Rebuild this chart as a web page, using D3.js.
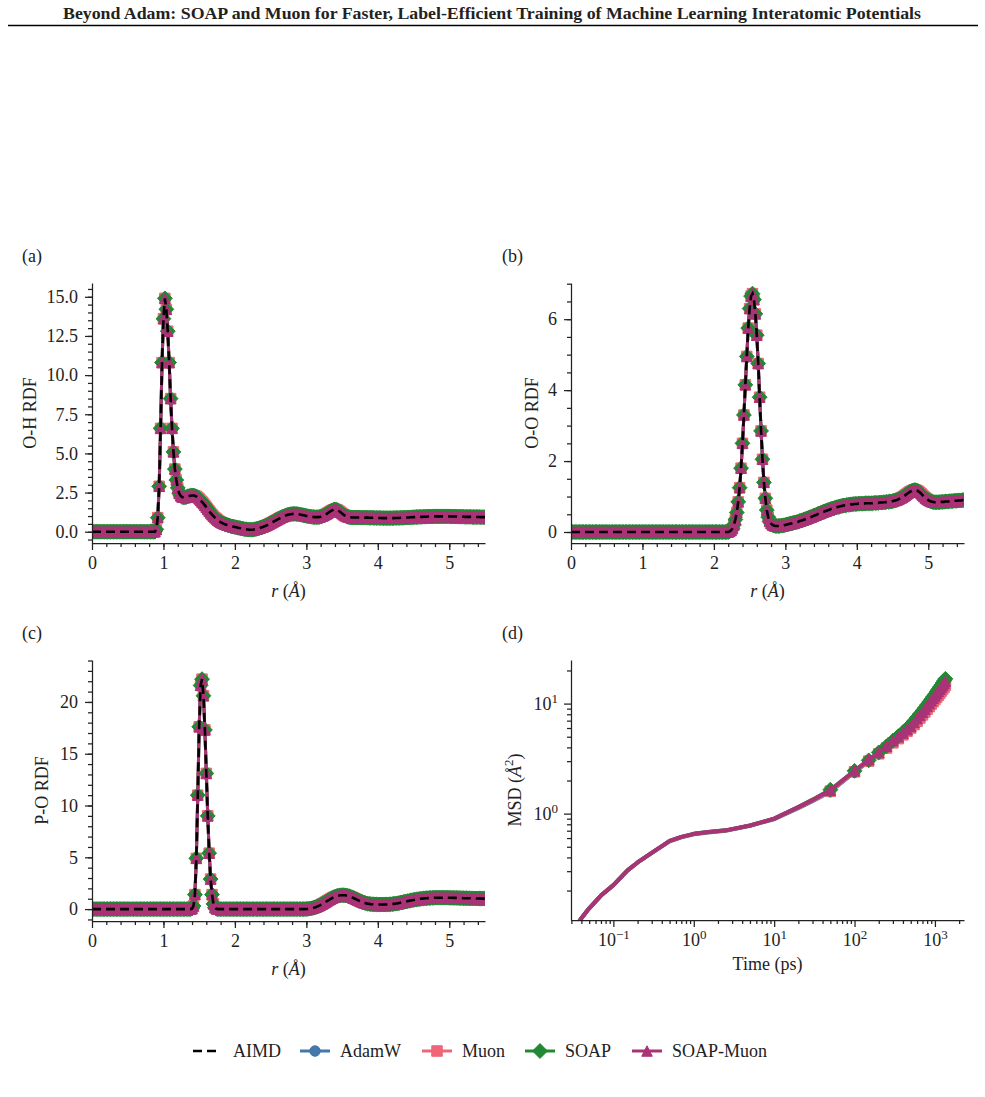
<!DOCTYPE html>
<html>
<head>
<meta charset="utf-8">
<script src="https://cdn.jsdelivr.net/npm/d3@7"></script>
<style>
  body { margin: 0; background: #fff; }
  svg text { font-family: "Liberation Serif", "Times New Roman", serif; fill: #222; }
  .axis path, .axis line, .minor line { stroke: #222; stroke-width: 1.25; }
  .axis text { font-size: 18px; }
</style>
</head>
<body>
<div id="fig"></div>
<script>
// RDF histograms, bin width 0.02 Å from r = 0 to 5.5 Å
const rdfBin = 0.02;

const rdfOH = [
  0,0,0,0,0,0,0,0,0,0, 0,0,0,0,0,0,0,0,0,0, 0,0,0,0,0,0,0,0,0,0, 0,0,0,0,0,0,0,0,0,0, 0,0,0,0,0,
  0.15, 0.9, 2.9, 6.6, 10.8, 13.6, 14.9, 14.2, 12.8, 10.8, 8.5, 6.6, 5.1, 4.0, 3.3, 2.8, 2.45, 2.3, 2.22, 2.2, 2.2,
  2.22, 2.25, 2.28, 2.3, 2.31, 2.31, 2.29, 2.25, 2.19, 2.1, 2.0, 1.9, 1.8, 1.68, 1.56, 1.44, 1.32, 1.2, 1.09, 0.99,
  0.9, 0.82, 0.74, 0.67, 0.61, 0.56, 0.52, 0.48, 0.45, 0.42, 0.39, 0.36, 0.34, 0.32, 0.3,
  0.28, 0.26, 0.24, 0.22, 0.2, 0.18, 0.16, 0.15, 0.14, 0.13, 0.13, 0.13, 0.14, 0.16, 0.18, 0.2, 0.23, 0.26, 0.29, 0.32,
  0.36, 0.4, 0.44, 0.49, 0.54, 0.59, 0.64, 0.69, 0.74, 0.79, 0.84, 0.89, 0.93, 0.97, 1.01, 1.05, 1.08, 1.1, 1.12, 1.13,
  1.14, 1.14, 1.13, 1.12, 1.11, 1.09, 1.07, 1.05, 1.03, 1.01,
  0.99, 0.98, 0.96, 0.95, 0.94, 0.93, 0.93, 0.93, 0.94, 0.96, 0.99, 1.03, 1.08, 1.13, 1.19, 1.25, 1.31, 1.36, 1.4, 1.42,
  1.41, 1.37, 1.31, 1.24, 1.16, 1.09, 1.03, 0.98, 0.95, 0.93, 0.92, 0.91,
  0.91, 0.91, 0.91, 0.91, 0.91, 0.9, 0.9, 0.9, 0.9, 0.9, 0.9, 0.89, 0.89,
  0.89, 0.89, 0.88, 0.88, 0.88, 0.88, 0.88, 0.87, 0.87, 0.87, 0.87, 0.87, 0.87, 0.87, 0.87, 0.87, 0.88, 0.88, 0.88, 0.88,
  0.89, 0.89, 0.89, 0.9, 0.9, 0.91, 0.91, 0.92, 0.92, 0.93, 0.93, 0.94, 0.94, 0.95, 0.95, 0.95, 0.96, 0.96, 0.96, 0.97,
  0.97, 0.97, 0.97, 0.98, 0.98, 0.98, 0.98, 0.98, 0.98, 0.98, 0.98, 0.98, 0.98, 0.98, 0.98, 0.97, 0.97, 0.97, 0.97, 0.97,
  0.96, 0.96, 0.96, 0.96, 0.96, 0.95, 0.95, 0.95, 0.95, 0.95, 0.94, 0.94, 0.94, 0.94, 0.94, 0.94, 0.93, 0.93, 0.93, 0.93
];

const rdfOO = [
  0,0,0,0,0,0,0,0,0,0, 0,0,0,0,0,0,0,0,0,0, 0,0,0,0,0,0,0,0,0,0, 0,0,0,0,0,0,0,0,0,0,
  0,0,0,0,0,0,0,0,0,0, 0,0,0,0,0,0,0,0,0,0, 0,0,0,0,0,0,0,0,0,0, 0,0,0,0,0,0,0,0,0,0,
  0,0,0,0,0,0,0,0,0,0, 0,0,0,0,0,0,0,0,0,0, 0,0,0,0,0,0,0,0,0,0, 0,
  0.02, 0.05, 0.1, 0.2, 0.35, 0.55, 0.85, 1.25, 1.8, 2.5, 3.3, 4.15, 4.95, 5.75, 6.3, 6.65, 6.72, 6.55, 6.15, 5.55,
  4.75, 3.8, 2.85, 2.05, 1.4, 0.95, 0.62, 0.42, 0.3, 0.24, 0.2, 0.18, 0.17, 0.17, 0.17,
  0.17, 0.18, 0.18, 0.19, 0.2, 0.21, 0.22, 0.23, 0.24, 0.25, 0.26, 0.27, 0.28, 0.29, 0.31, 0.32, 0.33, 0.35, 0.36, 0.38,
  0.39, 0.41, 0.42, 0.44, 0.46, 0.47, 0.49, 0.51, 0.52, 0.54, 0.56, 0.57, 0.59, 0.6, 0.62, 0.63, 0.65, 0.66, 0.67, 0.69,
  0.7, 0.71, 0.72, 0.73, 0.74, 0.75, 0.75, 0.76, 0.77, 0.77, 0.78, 0.78, 0.79, 0.79, 0.79, 0.8, 0.8, 0.8, 0.8, 0.8,
  0.81, 0.81, 0.81, 0.81, 0.81, 0.81, 0.82, 0.82, 0.82, 0.82, 0.83, 0.83, 0.83, 0.84, 0.84, 0.85, 0.85, 0.86, 0.86, 0.87,
  0.88, 0.89, 0.9, 0.92, 0.94, 0.96, 0.98, 1.01, 1.04, 1.07, 1.1, 1.13, 1.15, 1.17, 1.18, 1.18, 1.17, 1.15, 1.12, 1.08,
  1.04, 1.0, 0.96, 0.93, 0.9, 0.88, 0.86, 0.85, 0.84, 0.84, 0.84, 0.84, 0.84, 0.85, 0.85, 0.85, 0.86, 0.86, 0.86, 0.87,
  0.87, 0.87, 0.88, 0.88, 0.88, 0.89, 0.89, 0.89, 0.9, 0.9
];

const rdfPO = [
  0,0,0,0,0,0,0,0,0,0, 0,0,0,0,0,0,0,0,0,0, 0,0,0,0,0,0,0,0,0,0, 0,0,0,0,0,0,0,0,0,0,
  0,0,0,0,0,0,0,0,0,0, 0,0,0,0,0,0,0,0,0,0, 0,0,0,0,0,0,0,0,0,0,
  0.05, 0.3, 1.4, 4.9, 11.0, 17.6, 21.6, 22.2, 20.6, 17.3, 13.1, 9.0, 5.4, 2.9, 1.4, 0.5, 0.15, 0.03, 0,
  0,0,0,0,0,0,0,0,0,0, 0,0,0,0,0,0,0,0,0,0, 0,0,0,0,0,0,0,0,0,0, 0,0,0,0,0,0,0,0,0,0,
  0,0,0,0,0,0,0,0,0,0, 0,0,0,0,0,0,0,0,0,0, 0,
  0.01, 0.02, 0.04,
  0.06, 0.09, 0.12, 0.16, 0.21, 0.27, 0.33, 0.4, 0.48, 0.56, 0.64, 0.73, 0.82, 0.9, 0.98, 1.06, 1.13, 1.19, 1.24, 1.28,
  1.31, 1.33, 1.34, 1.34, 1.33, 1.31, 1.28, 1.24, 1.19, 1.13, 1.07, 1.0, 0.93, 0.86, 0.8, 0.74, 0.68, 0.63, 0.59, 0.55,
  0.52, 0.5, 0.48, 0.47, 0.46, 0.45, 0.45, 0.44, 0.44, 0.44, 0.44, 0.44, 0.44, 0.45, 0.45, 0.46, 0.47, 0.48, 0.5, 0.52,
  0.54, 0.56, 0.59, 0.62, 0.65, 0.68, 0.71, 0.74, 0.77, 0.8, 0.83, 0.86, 0.88, 0.91, 0.93, 0.95, 0.97, 0.99, 1.01, 1.02,
  1.04, 1.05, 1.06, 1.07, 1.08, 1.09, 1.09, 1.1, 1.1, 1.1, 1.1, 1.1, 1.1, 1.1, 1.1, 1.1, 1.1, 1.09, 1.09, 1.09,
  1.08, 1.08, 1.08, 1.07, 1.07, 1.06, 1.06, 1.05, 1.05, 1.05, 1.04, 1.04, 1.04, 1.03, 1.03, 1.03, 1.02, 1.02, 1.02, 1.02,
  1.01, 1.01, 1.01
];

// MSD vs time (ps); markers only appear from 50 ps on
const msdTime = [0.03, 0.04, 0.05, 0.07, 0.1, 0.15, 0.2, 0.3, 0.5, 0.7, 1, 1.5, 2.5, 5, 10, 20, 30,
  50, 100, 150, 200, 250, 300, 350, 400, 450, 500, 550, 600, 650, 700, 750, 800, 850, 900, 950,
  1000, 1050, 1100, 1150, 1200, 1250, 1300, 1350];
const msdAdamW = [0.083, 0.112, 0.138, 0.18, 0.224, 0.305, 0.36, 0.44, 0.56, 0.61, 0.65, 0.675, 0.7, 0.775, 0.89, 1.12, 1.3,
  1.58, 2.38, 3.0, 3.5, 4.0, 4.45, 4.85, 5.25, 5.65, 6.05, 6.55, 7.05, 7.55, 8.05, 8.6, 9.15, 9.7, 10.25, 10.8,
  11.3, 11.85, 12.4, 12.95, 13.5, 14.05, 14.6, 15.2];
const msdMuon = [0.083, 0.112, 0.138, 0.18, 0.224, 0.305, 0.36, 0.44, 0.56, 0.612, 0.652, 0.678, 0.703, 0.778, 0.895, 1.14, 1.32,
  1.6, 2.4, 3.0, 3.5, 3.95, 4.4, 4.8, 5.2, 5.6, 6.0, 6.45, 6.9, 7.4, 7.9, 8.4, 8.9, 9.4, 9.9, 10.4,
  10.9, 11.4, 11.9, 12.45, 13.0, 13.55, 14.1, 14.7];
const msdSOAP = [0.083, 0.112, 0.138, 0.18, 0.224, 0.305, 0.36, 0.44, 0.565, 0.615, 0.655, 0.68, 0.705, 0.78, 0.9, 1.15, 1.34,
  1.65, 2.45, 3.05, 3.6, 4.1, 4.6, 5.05, 5.5, 5.95, 6.4, 6.95, 7.5, 8.05, 8.6, 9.15, 9.75, 10.35, 10.95, 11.55,
  12.15, 12.8, 13.45, 14.1, 14.75, 15.4, 16.1, 16.8];
const msdSOAPMuon = [0.083, 0.112, 0.138, 0.18, 0.224, 0.305, 0.36, 0.44, 0.565, 0.615, 0.655, 0.68, 0.705, 0.78, 0.9, 1.15, 1.33,
  1.63, 2.45, 3.1, 3.6, 4.1, 4.6, 5.0, 5.4, 5.8, 6.2, 6.75, 7.3, 7.8, 8.35, 8.9, 9.45, 10.0, 10.6, 11.2,
  11.7, 12.3, 12.9, 13.5, 14.1, 14.7, 15.3, 16.0];

const models = ["AdamW", "Muon", "SOAP", "SOAP-Muon"];
const modelColors = ["#4477AA", "#EE6677", "#228833", "#AA3377"];
const modelMarkers = ["circle", "square", "diamond", "triangle"];
const msdByModel = [msdAdamW, msdMuon, msdSOAP, msdSOAPMuon];

const W = 985, H = 1097;
const markerSize = 10.5;
const fs = 18;

const svg = d3.select("#fig").append("svg")
  .attr("width", W).attr("height", H)
  .attr("viewBox", `0 0 ${W} ${H}`);
svg.append("rect").attr("width", W).attr("height", H).attr("fill", "#fff");

// header
svg.append("text")
  .attr("x", 492).attr("y", 18.5)
  .attr("text-anchor", "middle")
  .attr("font-size", 16).attr("font-weight", "bold")
  .attr("textLength", 858).attr("lengthAdjust", "spacingAndGlyphs")
  .text("Beyond Adam: SOAP and Muon for Faster, Label-Efficient Training of Machine Learning Interatomic Potentials");
svg.append("line")
  .attr("x1", 8).attr("x2", 978).attr("y1", 25.5).attr("y2", 25.5)
  .attr("stroke", "#000").attr("stroke-width", 1.6);

function markerPath(type, m) {
  const h = m / 2;
  if (type === "circle") return d3.symbol(d3.symbolCircle, Math.PI * h * h)();
  if (type === "square") return `M${-h},${-h}H${h}V${h}H${-h}Z`;
  if (type === "diamond") {
    const d = h * Math.SQRT2;
    return `M0,${-d}L${d},0L0,${d}L${-d},0Z`;
  }
  return `M0,${-h}L${h},${h}H${-h}Z`;
}

function minorAxis(g, axis, ty) {
  g.append("g").attr("class", "minor")
    .attr("transform", ty)
    .call(axis)
    .call(s => s.select(".domain").remove())
    .call(s => s.selectAll("text").remove());
}

function panelLabel(x, y, t) {
  svg.append("text").attr("x", x).attr("y", y).attr("font-size", fs).text(t);
}

// ---------- RDF panels ----------
function drawRdf(cfg) {
  const w = cfg.right - cfg.left, h = cfg.bottom - cfg.top;
  const g = svg.append("g").attr("transform", `translate(${cfg.left},${cfg.top})`);
  const x = d3.scaleLinear().domain([0, 5.5]).range([0, w]);
  const y = d3.scaleLinear().domain(cfg.yDomain).range([h, 0]);
  const pts = cfg.values.map((v, i) => [i * rdfBin, v]);

  g.append("clipPath").attr("id", cfg.id).append("rect")
    .attr("width", w).attr("height", h);
  const plot = g.append("g").attr("clip-path", `url(#${cfg.id})`);
  const line = d3.line().x(d => x(d[0])).y(d => y(d[1]));

  // the four MLIP curves overlap AIMD within marker size
  models.forEach((m, k) => {
    plot.append("path").datum(pts)
      .attr("d", line).attr("fill", "none")
      .attr("stroke", modelColors[k]).attr("stroke-width", 3);
    plot.append("g").selectAll("path").data(pts).join("path")
      .attr("d", markerPath(modelMarkers[k], markerSize))
      .attr("transform", d => `translate(${x(d[0])},${y(d[1])})`)
      .attr("fill", modelColors[k])
      .attr("stroke", modelColors[k]).attr("stroke-width", 1);
  });
  plot.append("path").datum(pts)
    .attr("d", line).attr("fill", "none")
    .attr("stroke", "#000").attr("stroke-width", 2.6)
    .attr("stroke-dasharray", "9,5");

  g.append("g").attr("class", "axis").attr("transform", `translate(0,${h})`)
    .call(d3.axisBottom(x).tickValues([0, 1, 2, 3, 4, 5]).tickFormat(d3.format("d"))
      .tickSize(7).tickSizeOuter(0).tickPadding(6));
  minorAxis(g, d3.axisBottom(x).tickValues(d3.range(0.2, 5.51, 0.2)).tickSize(4).tickSizeOuter(0),
    `translate(0,${h})`);
  g.append("g").attr("class", "axis")
    .call(d3.axisLeft(y).tickValues(cfg.yMajor).tickFormat(cfg.yFormat)
      .tickSize(7).tickSizeOuter(0).tickPadding(7));
  minorAxis(g, d3.axisLeft(y).tickValues(cfg.yMinor).tickSize(4).tickSizeOuter(0), null);

  const xl = g.append("text").attr("x", w / 2).attr("y", h + 54)
    .attr("text-anchor", "middle").attr("font-size", fs);
  xl.append("tspan").attr("font-style", "italic").text("r");
  xl.append("tspan").text(" (");
  xl.append("tspan").attr("font-style", "italic").text("Å");
  xl.append("tspan").text(")");

  svg.append("text")
    .attr("transform", `translate(${cfg.ylabelX},${(cfg.top + cfg.bottom) / 2}) rotate(-90)`)
    .attr("text-anchor", "middle").attr("dominant-baseline", "central")
    .attr("font-size", fs).text(cfg.ylabel);
}

drawRdf({
  id: "clipA", left: 92, right: 485, top: 283, bottom: 543,
  values: rdfOH, yDomain: [-0.72, 15.88],
  yMajor: [0, 2.5, 5, 7.5, 10, 12.5, 15], yFormat: d3.format(".1f"),
  yMinor: d3.range(-0.5, 15.9, 0.5), ylabel: "O-H RDF", ylabelX: 30
});
drawRdf({
  id: "clipB", left: 571, right: 964, top: 283, bottom: 543,
  values: rdfOO, yDomain: [-0.31, 7.02],
  yMajor: [0, 2, 4, 6], yFormat: d3.format("d"),
  yMinor: d3.range(0, 7.01, 0.5), ylabel: "O-O RDF", ylabelX: 532
});
drawRdf({
  id: "clipC", left: 92, right: 485, top: 660, bottom: 921,
  values: rdfPO, yDomain: [-1.15, 24.05],
  yMajor: [0, 5, 10, 15, 20], yFormat: d3.format("d"),
  yMinor: d3.range(-1, 24.01, 1), ylabel: "P-O RDF", ylabelX: 42
});

// ---------- MSD panel ----------
(function drawMsd() {
  const left = 571, right = 964, top = 660, bottom = 920;
  const w = right - left, h = bottom - top;
  const g = svg.append("g").attr("transform", `translate(${left},${top})`);
  const x = d3.scaleLog().domain([0.0297, 2300]).range([0, w]);
  const y = d3.scaleLog().domain([0.108, 24.9]).range([h, 0]);

  g.append("clipPath").attr("id", "clipD").append("rect").attr("width", w).attr("height", h);
  const plot = g.append("g").attr("clip-path", "url(#clipD)");
  const line = d3.line().x(d => x(d[0])).y(d => y(d[1]));

  models.forEach((m, k) => {
    const pts = msdTime.map((t, i) => [t, msdByModel[k][i]]);
    plot.append("path").datum(pts)
      .attr("d", line).attr("fill", "none")
      .attr("stroke", modelColors[k]).attr("stroke-width", 4)
      .attr("stroke-linejoin", "round");
    plot.append("g").selectAll("path").data(pts.filter(d => d[0] >= 50)).join("path")
      .attr("d", markerPath(modelMarkers[k], markerSize))
      .attr("transform", d => `translate(${x(d[0])},${y(d[1])})`)
      .attr("fill", modelColors[k])
      .attr("stroke", modelColors[k]).attr("stroke-width", 1);
  });

  const pow = d => {
    const e = Math.round(Math.log10(d));
    return Math.abs(Math.log10(d) - e) < 1e-9;
  };
  const supLabels = (sel, sup) => sel.selectAll(".tick text").each(function(d) {
    const t = d3.select(this).text("");
    const e = Math.round(Math.log10(d));
    t.append("tspan").text("10");
    t.append("tspan").attr("dy", sup).attr("font-size", 13).text(e < 0 ? "\u2212" + (-e) : e);
  });

  g.append("g").attr("class", "axis").attr("transform", `translate(0,${h})`)
    .call(d3.axisBottom(x).tickValues([0.1, 1, 10, 100, 1000]).tickFormat(() => "")
      .tickSize(7).tickSizeOuter(0).tickPadding(6))
    .call(s => supLabels(s, -7));
  minorAxis(g, d3.axisBottom(x).tickValues(x.ticks().filter(d => !pow(d))).tickSize(4).tickSizeOuter(0),
    `translate(0,${h})`);
  g.append("g").attr("class", "axis")
    .call(d3.axisLeft(y).tickValues([1, 10]).tickFormat(() => "")
      .tickSize(7).tickSizeOuter(0).tickPadding(6))
    .call(s => supLabels(s, -7));
  minorAxis(g, d3.axisLeft(y).tickValues(y.ticks().filter(d => !pow(d))).tickSize(4).tickSizeOuter(0), null);

  g.append("text").attr("x", w / 2).attr("y", h + 50)
    .attr("text-anchor", "middle").attr("font-size", fs).text("Time (ps)");
  const yl = svg.append("text")
    .attr("transform", `translate(515,${(top + bottom) / 2}) rotate(-90)`)
    .attr("text-anchor", "middle").attr("dominant-baseline", "central")
    .attr("font-size", fs);
  yl.append("tspan").text("MSD (");
  yl.append("tspan").attr("font-style", "italic").text("Å");
  yl.append("tspan").attr("dy", -7).attr("font-size", 13).text("2");
  yl.append("tspan").attr("dy", 7).text(")");
})();

panelLabel(22, 262, "(a)");
panelLabel(502, 262, "(b)");
panelLabel(22, 639, "(c)");
panelLabel(502, 639, "(d)");

// ---------- legend ----------
const legendNames = ["AIMD"].concat(models);
const legendX = [193, 300, 422, 525, 632];
const legendY = 1051;
const leg = svg.append("g");
legendNames.forEach((name, i) => {
  const x0 = legendX[i];
  if (i === 0) {
    leg.append("line").attr("x1", x0).attr("x2", x0 + 26).attr("y1", legendY).attr("y2", legendY)
      .attr("stroke", "#000").attr("stroke-width", 2.6).attr("stroke-dasharray", "9,5");
  } else {
    const c = modelColors[i - 1];
    leg.append("line").attr("x1", x0).attr("x2", x0 + 30).attr("y1", legendY).attr("y2", legendY)
      .attr("stroke", c).attr("stroke-width", 3);
    leg.append("path").attr("d", markerPath(modelMarkers[i - 1], markerSize))
      .attr("transform", `translate(${x0 + 15},${legendY})`)
      .attr("fill", c).attr("stroke", c).attr("stroke-width", 1);
  }
  leg.append("text").attr("x", x0 + 40).attr("y", legendY + 6)
    .attr("font-size", fs).text(name);
});
</script>
</body>
</html>
